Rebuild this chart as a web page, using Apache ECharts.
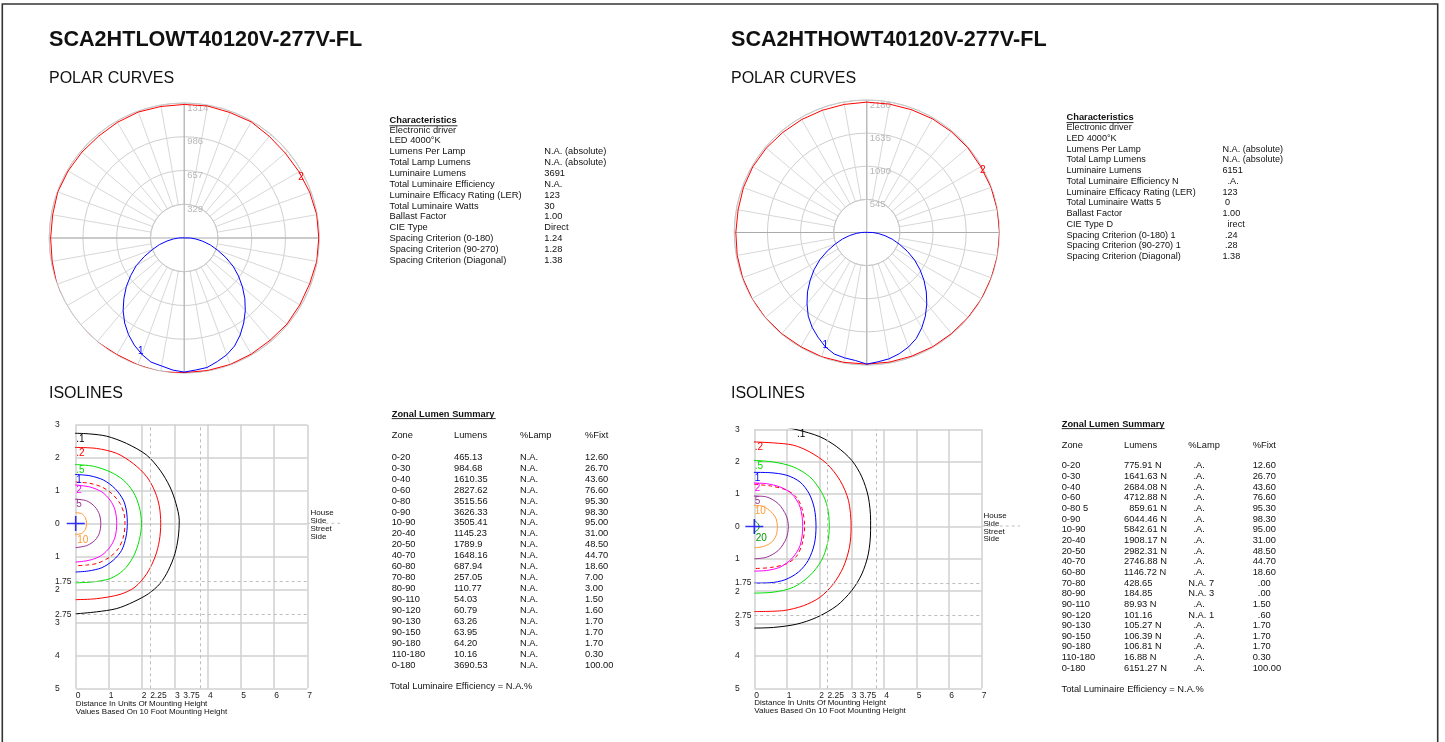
<!DOCTYPE html>
<html lang="en">
<head>
<meta charset="utf-8" />
<title>SCA2HT photometric summary</title>
<script src="https://cdn.jsdelivr.net/npm/echarts@6.0.0/dist/echarts.min.js"></script>
<style>
  html, body { margin: 0; padding: 0; background: #ffffff; }
  #chart { width: 1445px; height: 742px; }
</style>
</head>
<body>
<div id="chart"></div>
<script>
const FONT = '"Liberation Sans", Arial, Helvetica, sans-serif';

// ---- polar curves (candela). angle 0 = nadir, 90 = left, 180 = zenith, 270 = right
const redAngles = [0,10,20,30,40,50,60,70,80,90,100,110,120,130,140,150,160,170,180,190,200,210,220,230,240,250,260,270,280,290,300,310,320,330,340,350,360];
const blueAngles = [0,5,10,15,20,25,30,35,40,45,50,55,60,65,70,75,80,85,90,95,100,105,110,115,120,125,130,135,140,145,150,155,160,165,170,175,180,185,190,195,200,205,210,215,220,225,230,235,240,245,250,255,260,265,270,275,280,285,290,295,300,305,310,315,320,325,330,335,340,345,350,355,360];

const lowRed = [1310,1325,1315,1310,1320,1330,1330,1320,1305,1300,1300,1310,1305,1300,1295,1300,1305,1300,1300,1305,1300,1305,1290,1285,1290,1300,1310,1310,1310,1300,1300,1305,1300,1305,1310,1310,1310];
const lowBlue = [1305,1290,1265,1250,1205,1150,1085,1010,925,830,735,635,540,430,330,250,170,105,55,20,5,
  0,0,0,0,0,0,0,0,0,0,0,0,0,0,0,0,0,0,0,0,0,0,0,0,0,0,0,0,0,0,0,
  5,20,60,115,185,265,345,445,550,645,740,835,925,1010,1090,1160,1210,1245,1280,1290,1305];
const lowRings = ['329', '657', '986', '1314'];

const highRed = [2165,2170,2175,2170,2175,2180,2180,2175,2165,2155,2150,2160,2165,2160,2150,2145,2140,2140,2145,2145,2150,2160,2165,2170,2165,2175,2180,2185,2185,2180,2180,2175,2170,2170,2165,2165,2165];
const highBlue = [2165,2115,2095,2070,2000,1900,1800,1680,1530,1380,1215,1055,890,715,550,415,285,175,90,35,10,
  0,0,0,0,0,0,0,0,0,0,0,0,0,0,0,0,0,0,0,0,0,0,0,0,0,0,0,0,0,0,0,
  10,35,100,190,305,440,575,740,910,1070,1230,1385,1535,1680,1810,1925,2005,2065,2110,2135,2165];
const highRings = ['545', '1090', '1635', '2180'];

// ---- isolines (footcandles), x/y in mounting heights
const isoXLabels = ['0','1','2','3','4','5','6','7'];
const isoYLabels = ['5','4','3','2','1','0','1','2','3'];
const dashX = [2.25, 3.75];
const dashY = [-1.75, -2.75];
const origin = [[0, 0]];

const lowIso01 = [[0,2.74],[0.43,2.72],[0.94,2.65],[1.54,2.43],[2.14,2.08],[2.55,1.62],[2.85,1.11],[3.03,0.61],[3.13,0.10],[3.10,-0.41],[3.00,-0.91],[2.80,-1.42],[2.55,-1.82],[2.20,-2.13],[1.74,-2.38],[1.24,-2.58],[0.63,-2.68],[0,-2.74]];
const lowIso02 = [[0,2.31],[0.63,2.28],[1.24,2.13],[1.74,1.82],[2.15,1.42],[2.40,0.96],[2.53,0.51],[2.57,0],[2.53,-0.51],[2.40,-1.01],[2.15,-1.52],[1.79,-1.93],[1.34,-2.15],[0.63,-2.28],[0,-2.31]];
const lowIso05 = [[0,1.79],[0.53,1.74],[1.04,1.57],[1.44,1.32],[1.74,0.96],[1.92,0.51],[1.99,0],[1.92,-0.51],[1.74,-1.01],[1.44,-1.42],[1.04,-1.67],[0.53,-1.77],[0,-1.80]];
const lowIso1 = [[0,1.49],[0.43,1.45],[0.84,1.32],[1.19,1.06],[1.44,0.71],[1.54,0.35],[1.56,0],[1.52,-0.41],[1.39,-0.81],[1.14,-1.11],[0.79,-1.34],[0.38,-1.44],[0,-1.47]];
const lowIsoHalf = [[0,1.26],[0.43,1.22],[0.79,1.11],[1.09,0.91],[1.34,0.61],[1.46,0.30],[1.49,0],[1.44,-0.41],[1.29,-0.76],[1.04,-1.01],[0.68,-1.20],[0.33,-1.26],[0,-1.28]];
const lowIso2 = [[0,1.17],[0.43,1.11],[0.79,0.96],[1.04,0.71],[1.19,0.41],[1.24,0],[1.19,-0.41],[1.04,-0.71],[0.79,-0.96],[0.43,-1.11],[0,-1.17]];
const lowIso5 = [[0,0.74],[0.33,0.69],[0.58,0.51],[0.72,0.27],[0.76,0],[0.72,-0.28],[0.58,-0.51],[0.33,-0.67],[0,-0.73]];
const lowIso10 = [[0,0.33],[0.18,0.30],[0.29,0.18],[0.33,0],[0.29,-0.18],[0.18,-0.30],[0,-0.33]];

const highIso01 = [[0,3.14],[0.59,3.12],[1.30,2.99],[2.02,2.77],[2.54,2.46],[3.00,2.04],[3.31,1.53],[3.51,0.91],[3.58,0.19],[3.58,-0.12],[3.51,-0.85],[3.31,-1.47],[3.00,-1.98],[2.54,-2.45],[1.92,-2.81],[1.30,-3.02],[0.59,-3.12],[0,-3.14]];
const highIso02 = [[0,2.61],[0.59,2.58],[1.20,2.51],[1.71,2.30],[2.23,1.94],[2.64,1.42],[2.90,0.80],[2.98,0],[2.93,-0.64],[2.74,-1.26],[2.43,-1.78],[2.02,-2.19],[1.51,-2.45],[0.89,-2.60],[0,-2.63]];
const highIso05 = [[0,2.04],[0.59,1.99],[1.20,1.84],[1.71,1.53],[2.07,1.06],[2.25,0.60],[2.31,0],[2.25,-0.54],[2.07,-1.05],[1.71,-1.52],[1.20,-1.88],[0.59,-2.03],[0,-2.06]];
const highIso1 = [[0,1.67],[0.48,1.66],[1.00,1.58],[1.41,1.37],[1.69,1.01],[1.85,0.55],[1.90,0],[1.85,-0.54],[1.66,-1.05],[1.36,-1.41],[0.94,-1.65],[0.48,-1.74],[0,-1.75]];
const highIsoHalf = [[0,1.30],[0.5,1.25],[1.0,1.12],[1.3,0.90],[1.47,0.55],[1.55,0],[1.47,-0.55],[1.3,-0.92],[1.0,-1.15],[0.5,-1.27],[0,-1.30]];
const highIso2 = [[0,1.34],[0.38,1.32],[0.79,1.22],[1.15,1.01],[1.41,0.60],[1.49,0],[1.41,-0.59],[1.15,-1.00],[0.79,-1.26],[0.38,-1.36],[0,-1.38]];
const highIso5 = [[0,0.94],[0.38,0.91],[0.74,0.70],[0.98,0.34],[1.05,0],[0.98,-0.38],[0.74,-0.74],[0.38,-0.95],[0,-1.0]];
const highIso10 = [[0,0.65],[0.28,0.62],[0.53,0.44],[0.67,0.24],[0.71,0],[0.67,-0.28],[0.53,-0.49],[0.28,-0.62],[0,-0.66]];
const highIso20 = [[0,0.19],[0.12,0.08],[0.15,0],[0.12,-0.09],[0,-0.18]];

// ---- text tables
const charLabels = ['Electronic driver','LED 4000°K','Lumens Per Lamp','Total Lamp Lumens','Luminaire Lumens','Total Luminaire Efficiency','Luminaire Efficacy Rating (LER)','Total Luminaire Watts','Ballast Factor','CIE Type','Spacing Criterion (0-180)','Spacing Criterion (90-270)','Spacing Criterion (Diagonal)'];
const lowCharValues = ['','','N.A. (absolute)','N.A. (absolute)','3691','N.A.','123','30','1.00','Direct','1.24','1.28','1.38'];
const highCharLabels = ['Electronic driver','LED 4000°K','Lumens Per Lamp','Total Lamp Lumens','Luminaire Lumens','Total Luminaire Efficiency N','Luminaire Efficacy Rating (LER)','Total Luminaire Watts 5','Ballast Factor','CIE Type D','Spacing Criterion (0-180) 1','Spacing Criterion (90-270) 1','Spacing Criterion (Diagonal)'];
const highCharValues = ['','','N.A. (absolute)','N.A. (absolute)','6151','  .A.','123',' 0','1.00','  irect',' .24',' .28','1.38'];

const zoneHeader = ['Zone','Lumens','%Lamp','%Fixt'];
const lowZones = ['0-20','0-30','0-40','0-60','0-80','0-90','10-90','20-40','20-50','40-70','60-80','70-80','80-90','90-110','90-120','90-130','90-150','90-180','110-180','0-180'];
const lowLumens = ['465.13','984.68','1610.35','2827.62','3515.56','3626.33','3505.41','1145.23','1789.9','1648.16','687.94','257.05','110.77','54.03','60.79','63.26','63.95','64.20','10.16','3690.53'];
const lowLamp = ['N.A.','N.A.','N.A.','N.A.','N.A.','N.A.','N.A.','N.A.','N.A.','N.A.','N.A.','N.A.','N.A.','N.A.','N.A.','N.A.','N.A.','N.A.','N.A.','N.A.'];
const lowFixt = ['12.60','26.70','43.60','76.60','95.30','98.30','95.00','31.00','48.50','44.70','18.60','7.00','3.00','1.50','1.60','1.70','1.70','1.70','0.30','100.00'];
const highZones = ['0-20','0-30','0-40','0-60','0-80 5','0-90','10-90','20-40','20-50','40-70','60-80','70-80','80-90','90-110','90-120','90-130','90-150','90-180','110-180','0-180'];
const highLumens = ['775.91 N','1641.63 N','2684.08 N','4712.88 N','  859.61 N','6044.46 N','5842.61 N','1908.17 N','2982.31 N','2746.88 N','1146.72 N','428.65','184.85','89.93 N','101.16','105.27 N','106.39 N','106.81 N','16.88 N','6151.27 N'];
const highLamp = ['  .A.','  .A.','  .A.','  .A.','  .A.','  .A.','  .A.','  .A.','  .A.','  .A.','  .A.','N.A. 7','N.A. 3','  .A.','N.A. 1','  .A.','  .A.','  .A.','  .A.','  .A.'];
const highFixt = ['12.60','26.70','43.60','76.60','95.30','98.30','95.00','31.00','48.50','44.70','18.60','  .00','  .00','1.50','  .60','1.70','1.70','1.70','0.30','100.00'];

// ---------------------------------------------------------------
function polarData(values, angles, labelIdx, text, offset, color) {
  return values.map(function (v, i) {
    if (i !== labelIdx) return [v, angles[i]];
    return {
      value: [v, angles[i]], symbol: 'circle', symbolSize: 1,
      label: { show: true, formatter: text, position: 'inside', offset: offset, color: color, fontSize: 10, fontFamily: FONT }
    };
  });
}

function contour(grid, points, color, text, labelIdx, labelPos, dashed) {
  return {
    type: 'line', xAxisIndex: grid, yAxisIndex: grid, smooth: 0.3,
    symbol: 'none', silent: true, z: 4,
    lineStyle: { color: color, width: 1, type: dashed ? [4, 3] : 'solid' },
    itemStyle: { color: color },
    data: points.map(function (p, i) {
      if (i !== labelIdx) return p;
      return {
        value: p, symbol: 'circle', symbolSize: 1,
        label: { show: true, formatter: text, position: labelPos, color: color, fontSize: 10, fontFamily: FONT }
      };
    })
  };
}

function dashMarks(yLabelDist) {
  return {
    silent: true, symbol: ['none', 'none'], animation: false,
    lineStyle: { color: '#bdbdbd', type: [3, 3], width: 1 },
    label: {
      show: true, position: 'start', distance: 3, color: '#222', fontSize: 8.5, fontFamily: FONT,
      formatter: function (p) { return String(Math.abs(p.value)); }
    },
    data: [
      { xAxis: dashX[0], label: { align: 'left' } },
      { xAxis: dashX[1], label: { align: 'right' } },
      { yAxis: dashY[0], label: { align: 'left', distance: yLabelDist } },
      { yAxis: dashY[1], label: { align: 'left', distance: yLabelDist } }
    ]
  };
}

function crossMark(grid) {
  return {
    type: 'scatter', xAxisIndex: grid, yAxisIndex: grid, data: origin, clip: false, silent: true, z: 6,
    symbol: 'path://M0,7.2H18V8.8H0Z M8.2,0H9.8V16H8.2Z', symbolSize: [18, 15],
    itemStyle: { color: '#0000ff' }
  };
}

function ringAngleAxis(idx) {
  return {
    polarIndex: idx, type: 'value', min: 0, max: 360, interval: 10, startAngle: 90,
    axisLine: { show: true, lineStyle: { color: '#c8c8c8', width: 1 } },
    axisTick: { show: false }, axisLabel: { show: false },
    splitLine: { show: true, lineStyle: { color: '#d8d8d8', width: 1 } }
  };
}
function dataAngleAxis(idx) {
  return {
    polarIndex: idx, type: 'value', min: 0, max: 360, interval: 90, startAngle: 270, clockwise: true,
    axisLine: { show: false }, axisTick: { show: false }, axisLabel: { show: false },
    splitLine: { show: true, lineStyle: { color: '#aaaaaa', width: 1 } }
  };
}
function ringRadiusAxis(idx, step, labels) {
  return {
    polarIndex: idx, type: 'value', min: step, max: step * 4, interval: step,
    axisLine: { show: false }, axisTick: { show: false },
    splitLine: { show: true, lineStyle: { color: '#cfcfcf', width: 1 } },
    axisLabel: {
      show: true, showMinLabel: true, showMaxLabel: true,
      formatter: function (v, i) { return labels[i]; },
      color: '#b8b8b8', fontSize: 9.5, fontFamily: FONT, align: 'left', verticalAlign: 'top', margin: -3
    }
  };
}
function dataRadiusAxis(idx, max) {
  return {
    polarIndex: idx, type: 'value', min: 0, max: max,
    axisLine: { show: false }, axisTick: { show: false }, axisLabel: { show: false }, splitLine: { show: false }
  };
}

function isoAxisX(grid) {
  return {
    gridIndex: grid, type: 'value', min: 0, max: 7, interval: 1,
    axisLine: { show: false }, axisTick: { show: false },
    splitLine: { show: true, lineStyle: { color: '#d0d0d0', width: 1.5 } },
    axisLabel: { formatter: function (v, i) { return isoXLabels[i]; }, color: '#222', fontSize: 8.5, fontFamily: FONT, margin: 3, align: 'left' }
  };
}
function isoAxisY(grid, margin) {
  return {
    gridIndex: grid, type: 'value', min: -5, max: 3, interval: 1,
    axisLine: { show: false }, axisTick: { show: false },
    splitLine: { show: true, lineStyle: { color: '#d0d0d0', width: 1.5 } },
    axisLabel: { formatter: function (v, i) { return isoYLabels[i]; }, color: '#222', fontSize: 8.5, fontFamily: FONT, margin: margin, align: 'left' }
  };
}

// text helpers
function txt(x, y, text, size, weight) {
  return { type: 'text', x: x, y: y, silent: true,
    style: { text: text, fill: '#111', fontSize: size, fontWeight: weight || 'normal', fontFamily: FONT, align: 'left', verticalAlign: 'middle' } };
}
function column(x, firstY, lineH, items, size) {
  return { type: 'text', x: x, y: firstY - lineH / 2, silent: true,
    style: { text: items.join('\n'), lineHeight: lineH, fill: '#111', fontSize: size, fontFamily: FONT, align: 'left', verticalAlign: 'top' } };
}
function underline(x1, x2, y) {
  return { type: 'line', silent: true, shape: { x1: x1, y1: y, x2: x2, y2: y }, style: { stroke: '#111', lineWidth: 0.9 } };
}

const graphics = [
  { type: 'rect', silent: true, shape: { x: 2.3, y: 4, width: 1435.4, height: 800 }, style: { fill: 'none', stroke: '#333', lineWidth: 1.6 } },

  txt(49, 40.5, 'SCA2HTLOWT40120V-277V-FL', 21.6, 'bold'),
  txt(731, 40.5, 'SCA2HTHOWT40120V-277V-FL', 21.6, 'bold'),
  txt(49, 78.5, 'POLAR CURVES', 16),
  txt(731, 78.5, 'POLAR CURVES', 16),
  txt(49, 394, 'ISOLINES', 16),
  txt(731, 394, 'ISOLINES', 16),

  // characteristics
  txt(389.5, 120.5, 'Characteristics', 9.3, 'bold'),
  underline(389.5, 457.5, 125.8),
  column(389.5, 130, 10.85, charLabels, 9.3),
  column(544.3, 130, 10.85, lowCharValues, 9.3),
  txt(1066.5, 117.5, 'Characteristics', 9.3, 'bold'),
  underline(1066.5, 1133.5, 122.6),
  column(1066.5, 127.5, 10.75, highCharLabels, 9.1),
  column(1222.5, 127.5, 10.75, highCharValues, 9.1),

  // zonal lumen summary
  txt(391.7, 414, 'Zonal Lumen Summary', 9.3, 'bold'),
  underline(391.7, 495.7, 418.6),
  txt(391.7, 435, zoneHeader[0], 9.3), txt(454, 435, zoneHeader[1], 9.3),
  txt(520, 435, zoneHeader[2], 9.3), txt(585, 435, zoneHeader[3], 9.3),
  column(391.7, 457.3, 10.93, lowZones, 9.3),
  column(454, 457.3, 10.93, lowLumens, 9.3),
  column(520, 457.3, 10.93, lowLamp, 9.3),
  column(585, 457.3, 10.93, lowFixt, 9.3),
  txt(390, 686, 'Total Luminaire Efficiency = N.A.%', 9.3),

  txt(1061.7, 424, 'Zonal Lumen Summary', 9.3, 'bold'),
  underline(1061.7, 1164.7, 428.6),
  txt(1061.7, 445, zoneHeader[0], 9.3), txt(1124, 445, zoneHeader[1], 9.3),
  txt(1188.3, 445, zoneHeader[2], 9.3), txt(1252.7, 445, zoneHeader[3], 9.3),
  column(1061.7, 465.7, 10.66, highZones, 9.3),
  column(1124, 465.7, 10.66, highLumens, 9.3),
  column(1188.3, 465.7, 10.66, highLamp, 9.3),
  column(1252.7, 465.7, 10.66, highFixt, 9.3),
  txt(1061.5, 689.3, 'Total Luminaire Efficiency = N.A.%', 9.3),

  // isoline annotations
  column(75.7, 704, 8, ['Distance In Units Of Mounting Height', 'Values Based On 10 Foot Mounting Height'], 8),
  column(754.3, 702.7, 8, ['Distance In Units Of Mounting Height', 'Values Based On 10 Foot Mounting Height'], 8),
  column(310.5, 512.3, 8.1, ['House', 'Side', 'Street', 'Side'], 8),
  column(983.5, 516, 7.7, ['House', 'Side', 'Street', 'Side'], 8),
  { type: 'line', silent: true, shape: { x1: 307.3, y1: 523.3, x2: 340, y2: 523.3 }, style: { stroke: '#c0c0c0', lineWidth: 1, lineDash: [3, 3] } },
  { type: 'line', silent: true, shape: { x1: 981.7, y1: 526, x2: 1020, y2: 526 }, style: { stroke: '#c0c0c0', lineWidth: 1, lineDash: [3, 3] } }
];

const lowBlack = contour(0, lowIso01, '#000000', '.1', 0, [1, 1]);
lowBlack.markLine = dashMarks(20.7);
const highBlack = contour(1, highIso01, '#000000', '.1', 2, [1, 0]);
highBlack.markLine = dashMarks(19.3);

const option = {
  animation: false,
  backgroundColor: '#ffffff',
  textStyle: { fontFamily: FONT },
  polar: [
    { center: [184.2, 238], radius: [33.75, 135] },
    { center: [184.2, 238], radius: [0, 135] },
    { center: [866.8, 232.5], radius: [33.1, 132.5] },
    { center: [866.8, 232.5], radius: [0, 132.5] }
  ],
  angleAxis: [ringAngleAxis(0), dataAngleAxis(1), ringAngleAxis(2), dataAngleAxis(3)],
  radiusAxis: [
    ringRadiusAxis(0, 328.5, lowRings), dataRadiusAxis(1, 1314),
    ringRadiusAxis(2, 545, highRings), dataRadiusAxis(3, 2180)
  ],
  grid: [
    { left: 75.7, top: 424.7, width: 231.6, height: 263.6 },
    { left: 754.3, top: 429.3, width: 227.4, height: 259 }
  ],
  xAxis: [isoAxisX(0), isoAxisX(1)],
  yAxis: [isoAxisY(0, 20.7), isoAxisY(1, 19.3)],
  graphic: graphics,
  series: [
    { type: 'line', coordinateSystem: 'polar', polarIndex: 1, symbol: 'none', silent: true, z: 4,
      lineStyle: { color: '#ff0000', width: 1 }, itemStyle: { color: '#ff0000' },
      data: polarData(lowRed, redAngles, 24, '2', [2, 6], '#ff0000') },
    { type: 'line', coordinateSystem: 'polar', polarIndex: 1, symbol: 'none', silent: true, z: 4,
      lineStyle: { color: '#0000ff', width: 1 }, itemStyle: { color: '#0000ff' },
      data: polarData(lowBlue, blueAngles, 4, '1', [-1, -3], '#0000ff') },
    { type: 'line', coordinateSystem: 'polar', polarIndex: 3, symbol: 'none', silent: true, z: 4,
      lineStyle: { color: '#ff0000', width: 1 }, itemStyle: { color: '#ff0000' },
      data: polarData(highRed, redAngles, 24, '2', [2, 4], '#ff0000') },
    { type: 'line', coordinateSystem: 'polar', polarIndex: 3, symbol: 'none', silent: true, z: 4,
      lineStyle: { color: '#0000ff', width: 1 }, itemStyle: { color: '#0000ff' },
      data: polarData(highBlue, blueAngles, 4, '1', [0, -1], '#0000ff') },

    lowBlack,
    contour(0, lowIso02, '#ff0000', '.2', 0, [1, 1]),
    contour(0, lowIso05, '#00e000', '.5', 0, [1, 1]),
    contour(0, lowIso1, '#0000ff', '1', 0, [1, 1]),
    contour(0, lowIsoHalf, '#ff0000', '', -1, [1, 1], true),
    contour(0, lowIso2, '#ff00ff', '2', 0, [1, 1]),
    contour(0, lowIso5, '#993399', '5', 0, [1, 1]),
    contour(0, lowIso10, '#ff9933', '10', lowIso10.length - 1, [2, 1]),
    crossMark(0),

    highBlack,
    contour(1, highIso02, '#ff0000', '.2', 0, [1, 1]),
    contour(1, highIso05, '#00e000', '.5', 0, [1, 1]),
    contour(1, highIso1, '#0000ff', '1', 0, [1, 1]),
    contour(1, highIsoHalf, '#ff0000', '', -1, [1, 1], true),
    contour(1, highIso2, '#ff00ff', '2', 0, [1, 1]),
    contour(1, highIso5, '#993399', '5', 0, [1, 1]),
    contour(1, highIso10, '#ff9933', '10', 0, [1, 1]),
    contour(1, highIso20, '#009900', '20', highIso20.length - 1, [2, 1]),
    crossMark(1)
  ]
};

const chart = echarts.init(document.getElementById('chart'));
chart.setOption(option);
</script>
</body>
</html>
